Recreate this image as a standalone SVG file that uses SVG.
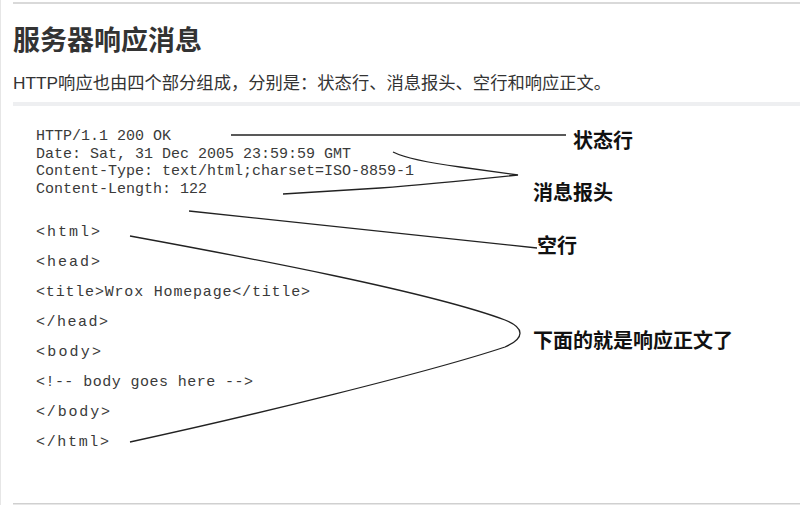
<svg xmlns="http://www.w3.org/2000/svg" width="800" height="505" viewBox="0 0 800 505">
<style>
.title{font-family:"Liberation Sans","Noto Sans CJK SC",sans-serif;font-size:27px;font-weight:bold;fill:#333}
.sub{font-family:"Liberation Sans","Noto Sans CJK SC",sans-serif;font-size:17.3px;fill:#333}
.code{font-family:"Liberation Mono","DejaVu Sans Mono",monospace;font-size:15px;fill:#3a3a3a}
.lbl{font-family:"Noto Sans CJK SC",sans-serif;font-size:20px;font-weight:bold;fill:#111}
.conn{fill:none;stroke:#222;stroke-width:1.3}
</style>
<rect x="0" y="0" width="800" height="505" fill="#fff"/>
<line x1="0.5" y1="0" x2="0.5" y2="505" stroke="#e6e6e6" stroke-width="1"/>
<rect x="13" y="2" width="787" height="2" fill="#d9d9d9"/>
<rect x="13" y="102" width="787" height="4" fill="#eeeff1"/>
<rect x="13" y="503" width="787" height="1.5" fill="#d0d0d0"/>
<g id="heading">
<text class="title" x="13" y="50">服务器响应消息</text>
<text class="sub" x="13" y="89">HTTP响应也由四个部分组成，分别是：状态行、消息报头、空行和响应正文。</text>
</g>
<g id="status-line"><text class="code" x="36" y="140">HTTP/1.1 200 OK</text></g>
<g id="headers">
<text class="code" x="36" y="157.5">Date: Sat, 31 Dec 2005 23:59:59 GMT</text>
<text class="code" x="36" y="175">Content-Type: text/html;charset=ISO-8859-1</text>
<text class="code" x="36" y="192.5">Content-Length: 122</text>
</g>
<g id="body">
<text class="code" x="36" y="236" textLength="64" lengthAdjust="spacing">&lt;html&gt;</text>
<text class="code" x="36" y="266" textLength="64" lengthAdjust="spacing">&lt;head&gt;</text>
<text class="code" x="36" y="296" textLength="274" lengthAdjust="spacing">&lt;title&gt;Wrox Homepage&lt;/title&gt;</text>
<text class="code" x="36" y="326" textLength="72" lengthAdjust="spacing">&lt;/head&gt;</text>
<text class="code" x="36" y="356" textLength="65" lengthAdjust="spacing">&lt;body&gt;</text>
<text class="code" x="36" y="386" textLength="217" lengthAdjust="spacing">&lt;!-- body goes here --&gt;</text>
<text class="code" x="36" y="416" textLength="74" lengthAdjust="spacing">&lt;/body&gt;</text>
<text class="code" x="36" y="446" textLength="73" lengthAdjust="spacing">&lt;/html&gt;</text>
</g>
<g id="label-status"><text class="lbl" x="573" y="148">状态行</text></g>
<g id="label-headers"><text class="lbl" x="533" y="200">消息报头</text></g>
<g id="label-blank"><text class="lbl" x="537" y="253">空行</text></g>
<g id="label-body"><text class="lbl" x="533" y="348">下面的就是响应正文了</text></g>
<g id="connectors">
<path class="conn" d="M231,135 L566,135"/>
<path class="conn" d="M393,152 C405,158 430,163 460,167 L518,175 Q430,184 380,188 Q330,191 283,194"/>
<path class="conn" d="M189,211 L537,248"/>
<path class="conn" d="M130,236 C250,258 430,292 505,320 C525,328 525,338 505,347 C430,372 250,416 130,442"/>
</g>
</svg>
